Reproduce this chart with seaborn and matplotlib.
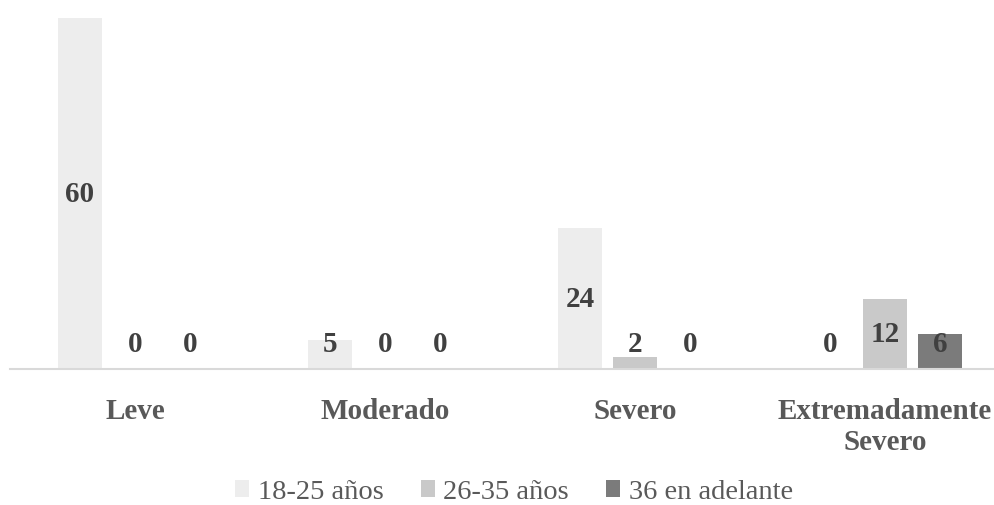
import matplotlib
matplotlib.use("Agg")
import matplotlib.pyplot as plt
from matplotlib.patches import Patch
import seaborn as sns
import pandas as pd

# Nivel de severidad por grupo de edad
categories = ["Leve", "Moderado", "Severo", "Extremadamente\nSevero"]
series_names = ["18-25 años", "26-35 años", "36 en adelante"]
values_18_25 = [60, 5, 24, 0]
values_26_35 = [0, 0, 2, 12]
values_36_plus = [0, 0, 0, 6]

colors = ["#ededed", "#c9c9c9", "#7b7b7b"]

rows = []
for name, vals in zip(series_names, [values_18_25, values_26_35, values_36_plus]):
    for cat, v in zip(categories, vals):
        rows.append({"categoria": cat, "grupo": name, "valor": v})
df = pd.DataFrame(rows)

sns.set_theme(style="white")
plt.rcParams["font.family"] = ["Liberation Serif", "DejaVu Serif"]

fig = plt.figure(figsize=(9.95, 5.06), dpi=100)
ax = fig.add_axes([10 / 995, 136 / 506, 1000 / 995, 369 / 506])

sns.barplot(data=df, x="categoria", y="valor", hue="grupo", order=categories,
            hue_order=series_names, palette=colors, width=0.66, gap=0.2,
            ax=ax, legend=False, edgecolor="none", linewidth=0)

ax.set_xlim(-0.5, 3.5)
ax.set_ylim(0, 63)
ax.set_xlabel("")
ax.set_ylabel("")
ax.set_yticks([])
for side in ["top", "left", "right"]:
    ax.spines[side].set_visible(False)
ax.spines["bottom"].set_color("#d9d9d9")
ax.spines["bottom"].set_linewidth(1.5)

ax.tick_params(axis="x", length=0, pad=20)
ax.set_xticks(range(len(categories)))
ax.set_xticklabels(categories, fontsize=21, fontweight="bold", color="#595959",
                   linespacing=1.2)

# Etiquetas de datos centradas en cada barra (con altura mínima para barras bajas)
min_label = 4.4
for container, vals in zip(ax.containers, [values_18_25, values_26_35, values_36_plus]):
    for bar, v in zip(container, vals):
        xc = bar.get_x() + bar.get_width() / 2
        yc = max(v / 2, min_label)
        ax.text(xc, yc, f"{v}", ha="center", va="center", fontsize=21,
                fontweight="bold", color="#404040")

handles = [Patch(facecolor=c, edgecolor="none", label=n) for c, n in zip(colors, series_names)]
fig.legend(handles=handles, loc="center", bbox_to_anchor=(514 / 995, 1 - 493 / 506),
           ncol=3, frameon=False, fontsize=20.5, handlelength=0.5, handleheight=0.5,
           handletextpad=0.3, columnspacing=1.3, labelcolor="#595959",
           borderpad=0, borderaxespad=0)

fig.savefig("out.png", dpi=100)
